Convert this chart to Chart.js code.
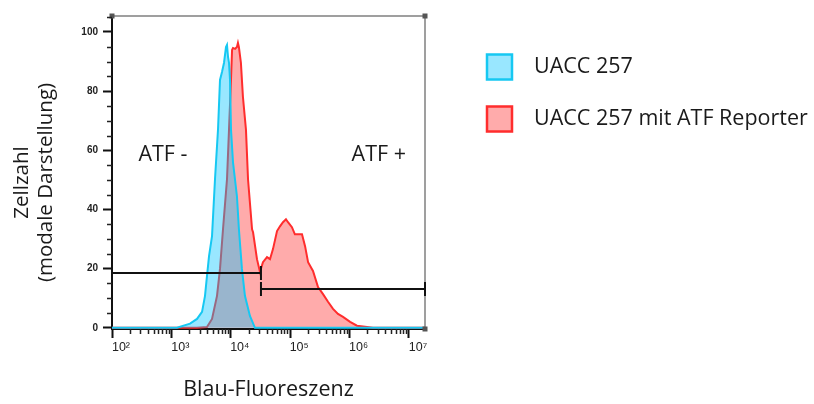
<!DOCTYPE html>
<html lang="de">
<head>
    <meta charset="UTF-8">
    <title>UACC 257 Blau-Fluoreszenz</title>
    <script src="https://cdn.jsdelivr.net/npm/chart.js"></script>
    <style>
        html, body { margin: 0; padding: 0; background: #fff; }
        #wrap { width: 814px; height: 404px; }
    </style>
</head>
<body>
<div id="wrap"><canvas id="histChart"></canvas></div>
<script>
    // Blau-Fluoreszenz (x) und Zellzahl in % vom Modus (y)
    const uaccX = [100, 1240, 2060, 2700, 3280, 3680, 3970, 4300, 4830, 5420, 6090, 6580, 7110, 7690, 8300, 8630,
        8980, 9330, 9700, 10080, 10900, 12700, 13700, 15400, 17300, 21000, 25500, 18600000];
    const uaccY = [0, 0, 1.4, 3.0, 5.4, 10.8, 17.5, 24.2, 31.0, 50.2, 67.0, 83.8, 86.5, 89.6, 94.9, 95.6,
        91.6, 89.6, 83.8, 67.0, 55.9, 44.4, 33.3, 19.9, 10.8, 4.0, 0, 0];

    const atfX = [100, 2700, 3970, 4830, 5860, 6580, 7390, 8630, 9330, 10080, 10500, 10900, 11800, 12700, 13200, 13700,
        14800, 16000, 18000, 19500, 22800, 23700, 27600, 31000, 34800, 40700, 45700, 51300, 60000, 67300, 75600, 84900,
        91800, 107000, 120000, 158000, 178000, 200000, 242000, 294000, 357000, 433000, 526000, 638000, 775000,
        1020000, 1330000, 2480000, 18600000];
    const atfY = [0, 0, 0.3, 3.0, 10.8, 19.9, 33.3, 50.2, 67.0, 83.8, 93.9, 94.6, 94.3, 94.9, 96.3, 94.9,
        89.6, 78.1, 67.0, 50.2, 33.3, 32.3, 23.2, 18.9, 22.2, 23.9, 23.2, 26.6, 32.7, 34.3, 35.7, 36.7,
        35.7, 34.0, 31.6, 31.6, 27.6, 22.2, 19.2, 13.8, 11.4, 8.8, 6.4, 4.7, 3.7,
        2.0, 0.7, 0, 0];

    const seriesLabels = ['UACC 257', 'UACC 257 mit ATF Reporter'];

    // Gates
    const gateLabels = ['ATF -', 'ATF +'];
    const gateFrom = [100, 32200];
    const gateTo = [32200, 18600000];
    const gateLevel = [18.5, 13.1];

    const xTickValues = [1e2, 1e3, 1e4, 1e5, 1e6, 1e7];
    const xTickLabels = ['10²', '10³', '10⁴', '10⁵', '10⁶', '10⁷'];
    const yTickValues = [0, 20, 40, 60, 80, 100];
    const yTitle = ['Zellzahl', '(modale Darstellung)'];

    const textFont = "'Open Sans', 'Liberation Sans', sans-serif";
    const textColor = '#1a1a1a';

    const flowDecor = {
        id: 'flowDecor',
        afterDraw(chart, args, opts) {
            const { ctx, chartArea: a, scales: { x, y } } = chart;
            ctx.save();

            // frame top / right
            ctx.strokeStyle = '#808080';
            ctx.lineWidth = 1.5;
            ctx.beginPath();
            ctx.moveTo(a.left, a.top);
            ctx.lineTo(a.right, a.top);
            ctx.lineTo(a.right, a.bottom);
            ctx.stroke();
            ctx.fillStyle = '#555';
            [[a.left, a.top], [a.right, a.top], [a.right, a.bottom]].forEach(p => {
                ctx.fillRect(p[0] - 2.5, p[1] - 2.5, 5, 5);
            });

            // minor ticks
            ctx.strokeStyle = '#222';
            ctx.lineWidth = 1.5;
            ctx.beginPath();
            for (let v = 5; v <= y.max; v += 5) {
                if (v % 20 === 0) continue;
                const py = Math.round(y.getPixelForValue(v)) + 0.5;
                ctx.moveTo(a.left - 5, py);
                ctx.lineTo(a.left, py);
            }
            for (let d = 2; d < 7; d++) {
                for (let k = 2; k <= 9; k++) {
                    const v = k * Math.pow(10, d);
                    if (v > x.max) continue;
                    const px = Math.round(x.getPixelForValue(v)) + 0.5;
                    ctx.moveTo(px, a.bottom);
                    ctx.lineTo(px, a.bottom + 5);
                }
            }
            ctx.stroke();

            // y axis title (two lines, slightly below centre like the original)
            ctx.save();
            ctx.translate(opts.yTitle.x, (a.top + a.bottom) / 2 + opts.yTitle.shift);
            ctx.rotate(-Math.PI / 2);
            ctx.fillStyle = textColor;
            ctx.font = '20.5px ' + textFont;
            ctx.textAlign = 'center';
            ctx.textBaseline = 'middle';
            yTitle.forEach((line, i) => ctx.fillText(line, 0, i * opts.yTitle.lineGap));
            ctx.restore();

            // gates
            ctx.strokeStyle = '#111';
            ctx.lineWidth = 2;
            gateLabels.forEach((lbl, i) => {
                const x1 = x.getPixelForValue(gateFrom[i]);
                const x2 = Math.min(x.getPixelForValue(gateTo[i]), a.right);
                const gy = y.getPixelForValue(gateLevel[i]);
                ctx.beginPath();
                ctx.moveTo(x1, gy);
                ctx.lineTo(x2, gy);
                ctx.moveTo(x1, gy - 7);
                ctx.lineTo(x1, gy + 7);
                ctx.moveTo(x2, gy - 7);
                ctx.lineTo(x2, gy + 7);
                ctx.stroke();

                const pos = opts.labelAt[i];
                ctx.fillStyle = textColor;
                ctx.font = '21.5px ' + textFont;
                ctx.textAlign = 'center';
                ctx.textBaseline = 'middle';
                ctx.fillText(lbl, x.getPixelForValue(pos.x), y.getPixelForValue(pos.y));
            });

            // legend
            const lg = opts.legend;
            chart.data.datasets.forEach((ds, i) => {
                const cy = lg.y + i * lg.gap;
                ctx.fillStyle = ds.backgroundColor;
                ctx.fillRect(lg.x, cy - lg.box / 2, lg.box, lg.box);
                ctx.strokeStyle = ds.borderColor;
                ctx.lineWidth = 2.5;
                ctx.strokeRect(lg.x, cy - lg.box / 2, lg.box, lg.box);
                ctx.fillStyle = textColor;
                ctx.font = '21.5px ' + textFont;
                ctx.textAlign = 'left';
                ctx.textBaseline = 'middle';
                ctx.fillText(ds.label, lg.x + 47, cy);
            });

            ctx.restore();
        }
    };

    const ctx = document.getElementById('histChart').getContext('2d');
    const histChart = new Chart(ctx, {
        type: 'line',
        data: {
            datasets: [{
                label: seriesLabels[0],
                data: uaccX.map((v, i) => ({ x: v, y: uaccY[i] })),
                borderColor: 'rgb(22, 200, 242)',
                backgroundColor: 'rgba(0, 196, 255, 0.4)',
                borderWidth: 2,
                fill: 'origin',
                pointRadius: 0,
                tension: 0
            }, {
                label: seriesLabels[1],
                data: atfX.map((v, i) => ({ x: v, y: atfY[i] })),
                borderColor: 'rgb(255, 45, 45)',
                backgroundColor: 'rgba(255, 0, 0, 0.33)',
                borderWidth: 2,
                fill: 'origin',
                pointRadius: 0,
                tension: 0
            }]
        },
        options: {
            responsive: true,
            maintainAspectRatio: false,
            animation: false,
            layout: { padding: { left: 0, right: 389, top: 16, bottom: 0 } },
            plugins: {
                legend: { display: false },
                tooltip: { enabled: false },
                flowDecor: {
                    labelAt: [{ x: 720, y: 58.6 }, { x: 3100000, y: 58.6 }],
                    legend: { x: 487, y: 67, gap: 52, box: 25 },
                    yTitle: { x: 22, shift: 10, lineGap: 24 }
                }
            },
            scales: {
                x: {
                    type: 'logarithmic',
                    min: 100,
                    max: 18600000,
                    afterBuildTicks: s => { s.ticks = xTickValues.map(v => ({ value: v })); },
                    afterFit: s => { s.height = 75; },
                    ticks: {
                        autoSkip: false,
                        maxRotation: 0,
                        labelOffset: 9,
                        padding: 2,
                        color: '#222',
                        font: { family: "'Liberation Sans', Arial, sans-serif", size: 12.5 },
                        callback: (v, i) => xTickLabels[i]
                    },
                    grid: { drawOnChartArea: false, drawTicks: true, tickLength: 9, tickWidth: 2, tickColor: '#111' },
                    border: { display: true, color: '#111', width: 2 },
                    title: {
                        display: true,
                        text: 'Blau-Fluoreszenz',
                        color: textColor,
                        font: { family: textFont, size: 21.5, lineHeight: 1.2 },
                        padding: { top: 0, bottom: 1 }
                    }
                },
                y: {
                    min: -0.4,
                    max: 105.4,
                    afterBuildTicks: s => { s.ticks = yTickValues.map(v => ({ value: v })); },
                    afterFit: s => { s.width = 112; },
                    ticks: {
                        padding: 5,
                        color: '#222',
                        font: { family: "'Liberation Sans', Arial, sans-serif", size: 10, weight: 'bold' }
                    },
                    grid: { drawOnChartArea: false, drawTicks: true, tickLength: 9, tickWidth: 2, tickColor: '#111' },
                    border: { display: true, color: '#111', width: 2 }
                }
            }
        },
        plugins: [flowDecor]
    });
</script>
</body>
</html>
